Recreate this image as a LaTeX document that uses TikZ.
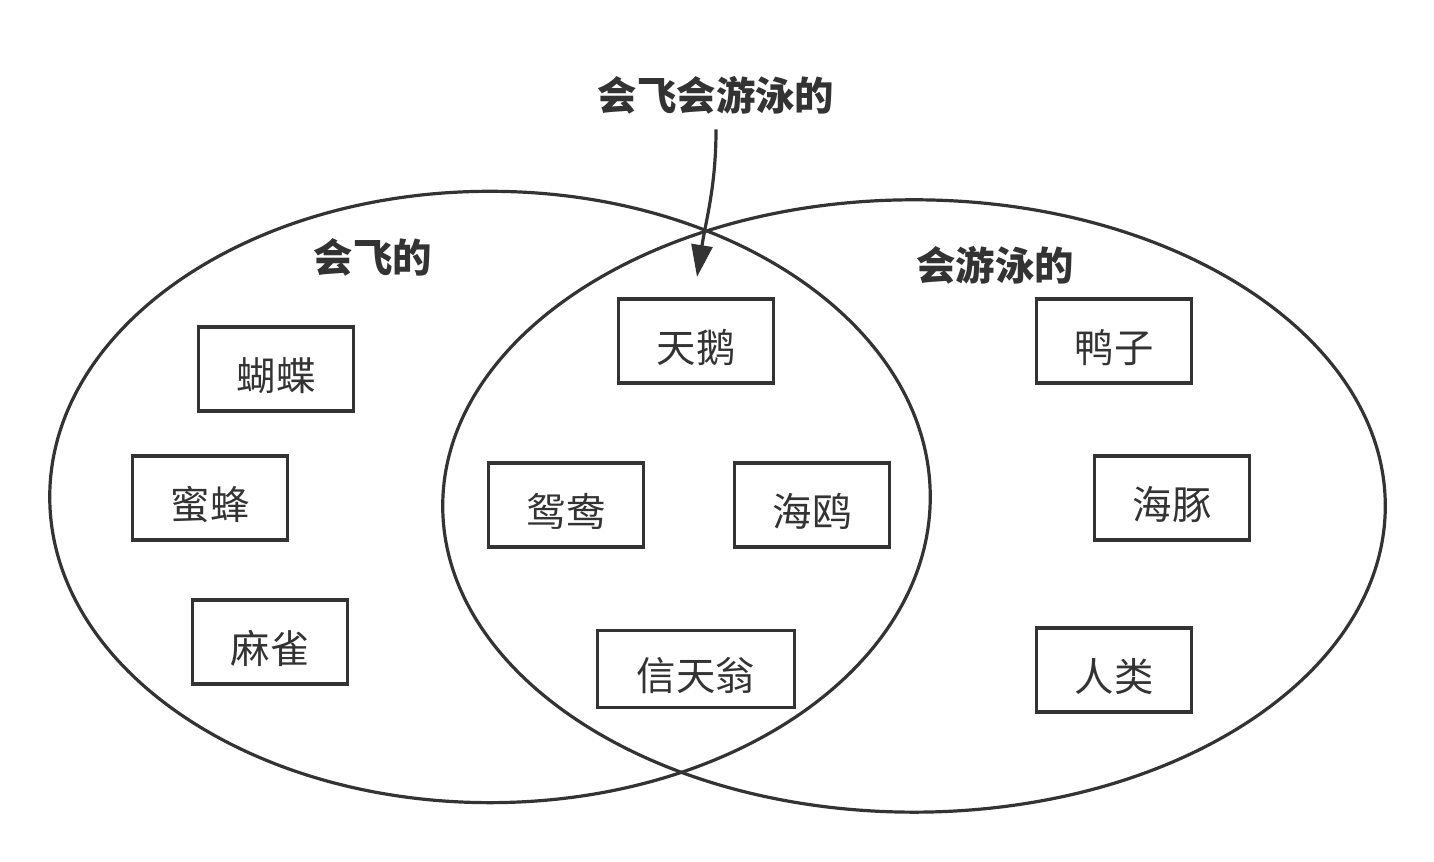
\documentclass[tikz,border=0pt]{standalone}
\usepackage{fontspec}
\newfontfamily\cjk{Noto Sans CJK SC}
\usetikzlibrary{shapes,arrows.meta,positioning,calc}
\definecolor{ink}{HTML}{333333}

\begin{document}
\begin{tikzpicture}[
        x=0.01cm, y=0.01cm,
        set/.style={draw=ink, line width=0.032cm, ellipse, inner sep=0pt},
        item/.style={draw=ink, line width=0.032cm, minimum width=1.55cm, minimum height=0.84cm, inner sep=0pt, text height=12.4pt, text depth=0pt, text=ink, font=\cjk\fontsize{11.2}{13}\selectfont},
        title/.style={text=ink, font=\cjk\bfseries\fontsize{11.2}{13}\selectfont},
        arrow/.style={draw=ink, line width=0.032cm, -{Triangle[length=0.32cm, width=0.21cm]}}
    ]
        \useasboundingbox (0,0) rectangle (1434,862);

        % Sets
        \node[set, minimum width=8.8cm, minimum height=6.11cm] (fly) at (490,365) {};
        \node[set, minimum width=9.42cm, minimum height=6.12cm] (swim) at (914,356) {};

        % Set titles
        \node[title] (flylbl) at (373,605) {会飞的};
        \node[title] (swimlbl) at (995,597) {会游泳的};
        \node[title] (bothlbl) at (716,767) {会飞会游泳的};

        % Only flying
        \node[item] (butterfly) at (276,493) {蝴蝶};
        \node[item] (bee) at (210,364) {蜜蜂};
        \node[item] (sparrow) at (270,220) {麻雀};

        % Both
        \node[item] (swan) at (696,521) {天鹅};
        \node[item] (mandarin) at (566,357) {鸳鸯};
        \node[item] (gull) at (812,357) {海鸥};
        \node[item, minimum width=1.97cm, minimum height=0.77cm] (albatross) at (696,193) {信天翁};

        % Only swimming
        \node[item] (duck) at (1114,521) {鸭子};
        \node[item] (dolphin) at (1172,364) {海豚};
        \node[item] (human) at (1114,192) {人类};

        % Pointer into the overlap
        \coordinate (overlap) at (697,585);
        \draw[arrow, shorten <=0.03cm] (bothlbl.south) to[out=-90, in=81] (overlap);
    \end{tikzpicture}
\end{document}
